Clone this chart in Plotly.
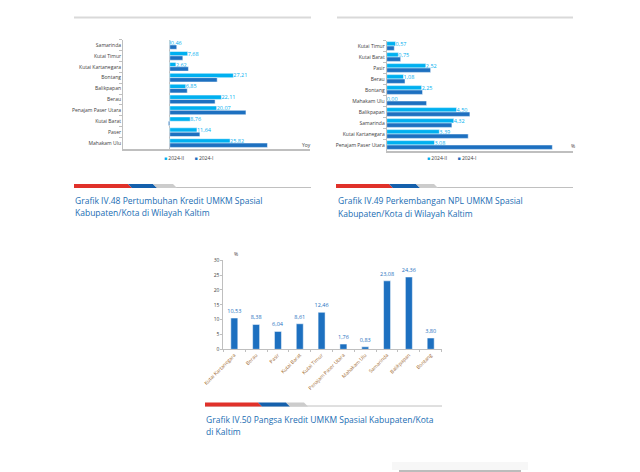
import plotly.graph_objects as go

W, H = 640, 472
LIGHT = "#00b0f0"
DARK = "#1d70c0"
AXIS = "#bfbfbf"
LBL = "#404040"
FONT = "Open Sans"

# ---- Chart IV.48 data ----
c1_categories = ["Samarinda", "Kutai Timur", "Kutai Kartanegara", "Bontang", "Balikpapan",
                 "Berau", "Penajam Paser Utara", "Kutai Barat", "Paser", "Mahakam Ulu"]
c1_2024_II = [0.46, 7.68, 2.62, 27.21, 6.85, 22.11, 20.07, 8.76, 11.64, 25.82]
c1_2024_I = [3.0, 5.6, 8.0, 20.3, 7.5, 19.4, 32.6, -0.6, 12.9, 41.8]

# ---- Chart IV.49 data ----
c2_categories = ["Kutai Timur", "Kutai Barat", "Pasir", "Berau", "Bontang", "Mahakam Ulu",
                 "Balikpapan", "Samarinda", "Kutai Kartanegara", "Penajam Paser Utara"]
c2_2024_II = [0.57, 0.75, 2.52, 1.08, 2.25, 0.00, 4.50, 4.32, 3.39, 3.08]
c2_2024_I = [0.49, 0.90, 2.83, 1.18, 2.31, 2.57, 5.36, 4.20, 5.25, 10.67]

# ---- Chart IV.50 data ----
c3_categories = ["Kutai Kartanegara", "Berau", "Pasir", "Kutai Barat", "Kutai Timur",
                 "Penajam Paser Utara", "Mahakam Ulu", "Samarinda", "Balikpapan", "Bontang"]
c3_values = [10.53, 8.38, 6.04, 8.61, 12.46, 1.76, 0.83, 23.08, 24.36, 3.80]

legend_labels = ["2024-II", "2024-I"]


def fmt(v):
    return f"{v:.2f}".replace(".", ",")


def px(x):
    return x / W


def py(y):
    return 1 - y / H


fig = go.Figure()

# Chart 1
fig.add_trace(go.Bar(y=c1_categories, x=c1_2024_II, orientation="h", name=legend_labels[0],
                     marker=dict(color=LIGHT, line=dict(color="white", width=0.5)),
                     text=[fmt(v) for v in c1_2024_II], textposition="outside",
                     textfont=dict(color=LIGHT, size=5.5, family=FONT), constraintext="none",
                     cliponaxis=False, xaxis="x", yaxis="y", showlegend=False))
fig.add_trace(go.Bar(y=c1_categories, x=c1_2024_I, orientation="h", name=legend_labels[1],
                     marker=dict(color=DARK, line=dict(color="white", width=0.5)),
                     xaxis="x", yaxis="y", showlegend=False))

# Chart 2
fig.add_trace(go.Bar(y=c2_categories, x=c2_2024_II, orientation="h", name=legend_labels[0],
                     marker=dict(color=LIGHT, line=dict(color="white", width=0.5)),
                     text=[fmt(v) for v in c2_2024_II], textposition="outside",
                     textfont=dict(color=LIGHT, size=5.5, family=FONT), constraintext="none",
                     cliponaxis=False, xaxis="x2", yaxis="y2", showlegend=False))
fig.add_trace(go.Bar(y=c2_categories, x=c2_2024_I, orientation="h", name=legend_labels[1],
                     marker=dict(color=DARK, line=dict(color="white", width=0.5)),
                     xaxis="x2", yaxis="y2", showlegend=False))

# Chart 3
fig.add_trace(go.Bar(x=c3_categories, y=c3_values, width=0.32,
                     marker=dict(color=DARK, line=dict(color="white", width=0.5)),
                     text=[fmt(v) for v in c3_values], textposition="outside",
                     textfont=dict(color=DARK, size=5.5, family=FONT), constraintext="none",
                     cliponaxis=False, xaxis="x3", yaxis="y3", showlegend=False))

fig.update_layout(
    template="none",
    width=W, height=H, margin=dict(l=0, r=0, t=0, b=0, pad=0, autoexpand=False),
    paper_bgcolor="white", plot_bgcolor="white",
    barmode="group", bargap=0.2, bargroupgap=0.0,
    font=dict(family=FONT, size=5, color=LBL),
    showlegend=False,
    xaxis=dict(domain=[px(123), px(310)], range=[-20, 60], showgrid=False, automargin=False,
               zeroline=True, zerolinecolor=AXIS, zerolinewidth=1,
               showline=True, linecolor=AXIS, linewidth=1.5, showticklabels=False, ticks="",
               anchor="y"),
    yaxis=dict(domain=[py(148.5), py(39.5)], categoryorder="array", categoryarray=c1_categories,
               autorange="reversed", showgrid=False, showline=True, linecolor=AXIS, linewidth=1,
               ticks="outside", ticklen=3, tickcolor=AXIS, tickson="boundaries", automargin=False,
               zeroline=False, tickfont=dict(size=5, color=LBL, family=FONT), anchor="x"),
    xaxis2=dict(domain=[px(386.7), px(573)], range=[0, 12], showgrid=False, zeroline=False,
                showline=True, linecolor=AXIS, linewidth=2, showticklabels=False, ticks="",
                automargin=False, anchor="y2"),
    yaxis2=dict(domain=[py(150.5), py(40.5)], categoryorder="array", categoryarray=c2_categories,
                autorange="reversed", showgrid=False, showline=True, linecolor=AXIS, linewidth=1,
                ticks="outside", ticklen=3, tickcolor=AXIS, tickson="boundaries", automargin=False,
                zeroline=False, tickfont=dict(size=5, color=LBL, family=FONT), anchor="x2"),
    xaxis3=dict(domain=[px(223.4), px(441.6)], showgrid=False, showline=True, linecolor=AXIS,
                linewidth=1, ticks="outside", ticklen=2, tickcolor=AXIS, tickson="boundaries",
                tickangle=-45, automargin=False, zeroline=False,
                tickfont=dict(size=5, color="#a0692f", family=FONT), anchor="y3"),
    yaxis3=dict(domain=[py(349.3), py(260.3)], range=[0, 30], dtick=5, showgrid=False,
                zeroline=False, showline=True, linecolor=AXIS, linewidth=1, ticks="outside",
                ticklen=2, tickcolor=AXIS, automargin=False,
                tickfont=dict(size=5, color=LBL, family=FONT), anchor="x3"),
)

shapes = []
# top separator lines
for x0, x1 in [(74, 311), (337, 573)]:
    shapes.append(dict(type="line", xref="paper", yref="paper", x0=px(x0), x1=px(x1),
                       y0=py(17.5), y1=py(17.5), line=dict(color="#d9d9d9", width=2)))


def stripe(x0, x_red, x_blue, x_gray, x_end, y):
    top, bot = y - 2, y + 2
    out = []
    out.append(dict(type="line", xref="paper", yref="paper", x0=px(x0), x1=px(x_end),
                    y0=py(bot - 0.5), y1=py(bot - 0.5), line=dict(color="#c0c0c0", width=1)))
    segs = [(x0, x_red, "#e0312a"), (x_red, x_blue, "#1560ac"), (x_blue, x_gray, "#cccccc")]
    for i, (a, b, col) in enumerate(segs):
        a_top = a if i == 0 else a - 4
        path = (f"M {px(a_top)} {py(top)} L {px(b - 4)} {py(top)} L {px(b)} {py(bot)} "
                f"L {px(a)} {py(bot)} Z")
        out.append(dict(type="path", xref="paper", yref="paper", path=path,
                        fillcolor=col, line=dict(width=0)))
    return out


shapes += stripe(74, 132, 157, 177, 311, 186)
shapes += stripe(336, 393, 420, 438, 573, 186)
shapes += stripe(205, 262, 290, 308, 442, 404.5)

# bottom decorative line
shapes.append(dict(type="rect", xref="paper", yref="paper", x0=px(392), x1=px(528),
                   y0=py(470), y1=py(462), fillcolor="rgba(0,0,0,0.03)", line=dict(width=0)))
shapes.append(dict(type="line", xref="paper", yref="paper", x0=px(399), x1=px(521),
                   y0=py(471), y1=py(471), line=dict(color="#a6a6a6", width=1.5)))

annotations = []


def ann(text, x, y, size=5, color=LBL, xanchor="left"):
    annotations.append(dict(text=text, x=px(x), y=py(y), xref="paper", yref="paper",
                            showarrow=False, xanchor=xanchor, yanchor="middle",
                            font=dict(size=size, color=color, family=FONT)))


CAP = "#1a6db3"
ann("Grafik IV.48 Pertumbuhan Kredit UMKM Spasial", 73, 200, 8.5, CAP)
ann("Kabupaten/Kota di Wilayah Kaltim", 73, 212.7, 8.5, CAP)
ann("Grafik IV.49 Perkembangan NPL UMKM Spasial", 336, 200.5, 8.5, CAP)
ann("Kabupaten/Kota di Wilayah Kaltim", 336, 213, 8.5, CAP)
ann("Grafik IV.50 Pangsa Kredit UMKM Spasial Kabupaten/Kota", 204, 419, 8.5, CAP)
ann("di Kaltim", 204, 431, 8.5, CAP)

ann("Yoy", 300, 144.5, 5)
ann("%", 569, 146, 5)
ann("%", 232, 254, 5)

leg = (f'<span style="color:{LIGHT}">■</span> ' + legend_labels[0] +
       f'        <span style="color:{DARK}">■</span> ' + legend_labels[1])
ann(leg, 162, 158, 5)
ann(leg, 425, 158, 5)

fig.update_layout(shapes=shapes, annotations=annotations)
fig.write_html("out.html", config={"displayModeBar": False},
               post_script="document.body.style.margin='0';document.body.style.overflow='hidden';")
